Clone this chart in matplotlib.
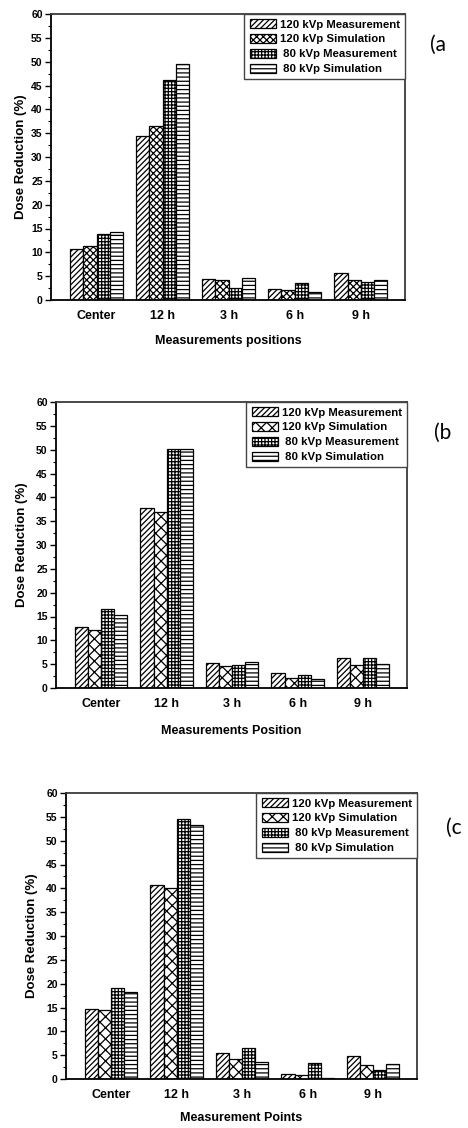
import numpy as np
import matplotlib
matplotlib.use('Agg')
import matplotlib.pyplot as plt
from matplotlib.ticker import MultipleLocator

plt.rcParams['font.family'] = ['Liberation Sans', 'DejaVu Sans']
plt.rcParams['font.weight'] = 'bold'
plt.rcParams['hatch.linewidth'] = 0.9

# Data
positions = ['Center', '12 h', '3 h', '6 h', '9 h']
series_names = ['120 kVp Measurement', '120 kVp Simulation', ' 80 kVp Measurement', ' 80 kVp Simulation']

# panel (a)
a_120_meas = [10.8, 34.5, 4.5, 2.4, 5.7]
a_120_sim = [11.4, 36.4, 4.1, 2.1, 4.2]
a_80_meas = [13.8, 46.2, 2.6, 3.5, 3.8]
a_80_sim = [14.3, 49.6, 4.7, 1.7, 4.3]

# panel (b)
b_120_meas = [12.8, 37.8, 5.2, 3.1, 6.3]
b_120_sim = [12.1, 36.9, 4.7, 2.2, 4.8]
b_80_meas = [16.5, 50.1, 4.8, 2.7, 6.2]
b_80_sim = [15.4, 50.1, 5.5, 1.8, 5.0]

# panel (c)
c_120_meas = [14.7, 40.7, 5.5, 1.1, 4.9]
c_120_sim = [14.4, 40.1, 4.1, 0.9, 2.9]
c_80_meas = [19.1, 54.5, 6.6, 3.4, 1.8]
c_80_sim = [18.3, 53.2, 3.5, 0.2, 3.2]

x_labels = ['Measurements positions', 'Measurements Position', 'Measurement Points']
panel_tags = ['(a', '(b', '(c']

W, H = 468, 1128
fig = plt.figure(figsize=(W / 100, H / 100), dpi=100)

# axes boxes in pixels: left, top, right, bottom
boxes = [(51, 14, 405, 300), (56, 402, 407, 688), (66, 793, 417, 1079)]
ylabel_x = [27, 28, 38]      # right edge of the rotated y label
xlabel_y = [335, 725, 1112]  # top of the x label
tag_pos = [(430, 45), (434, 433), (446, 828)]
hatch_sets = [['//////', 'xxxxx', '+++++', '----'],
              ['//////', 'xxx', '+++++', '----'],
              ['//////', 'xxx', '+++++', '----']]

panels = [
    [a_120_meas, a_120_sim, a_80_meas, a_80_sim],
    [b_120_meas, b_120_sim, b_80_meas, b_80_sim],
    [c_120_meas, c_120_sim, c_80_meas, c_80_sim],
]

x = np.arange(1, len(positions) + 1)
width = 0.2
offsets = [-1.5 * width, -0.5 * width, 0.5 * width, 1.5 * width]

for i, series in enumerate(panels):
    l, t, r, b = boxes[i]
    ax = fig.add_axes([l / W, 1 - b / H, (r - l) / W, (b - t) / H])

    for j, vals in enumerate(series):
        ax.bar(x + offsets[j], vals, width, color='white', edgecolor='black',
               linewidth=0.9, hatch=hatch_sets[i][j], label=series_names[j])

    ax.set_xlim(0.31, 5.67)
    ax.set_ylim(0, 60)
    ax.yaxis.set_major_locator(MultipleLocator(5))
    ax.yaxis.set_minor_locator(MultipleLocator(2.5))
    ax.set_xticks(x)
    ax.set_xticklabels(positions, fontsize=9, fontweight='bold')
    ax.tick_params(axis='x', length=0, pad=7)
    ax.tick_params(axis='y', which='major', direction='out', length=4, width=1, labelsize=7.5, pad=2)
    ax.tick_params(axis='y', which='minor', direction='out', length=2.5, width=0.8)

    for side in ['left', 'bottom']:
        ax.spines[side].set_linewidth(1.3)
        ax.spines[side].set_color('black')
    for side in ['top', 'right']:
        ax.spines[side].set_linewidth(1.3)
        ax.spines[side].set_color('#3a3a3a')

    ax.set_ylabel('Dose Reduction (%)', fontsize=9.5, fontweight='bold')
    ax.yaxis.set_label_coords((ylabel_x[i] - l) / (r - l), 0.5)
    ax.set_xlabel(x_labels[i], fontsize=9, fontweight='bold')
    ax.xaxis.set_label_coords(0.5, (b - xlabel_y[i]) / (b - t))

    leg = ax.legend(loc='upper right', bbox_to_anchor=(1, 1), borderaxespad=0,
                    fancybox=False, framealpha=1, edgecolor='#444444',
                    prop={'size': 8.2, 'weight': 'bold'},
                    handlelength=2.3, handleheight=0.85, handletextpad=0.35,
                    labelspacing=0.38, borderpad=0.45)
    leg.get_frame().set_linewidth(1.0)

    tx, ty = tag_pos[i]
    fig.text(tx / W, 1 - ty / H, panel_tags[i], fontsize=15, fontweight='normal',
             family=['Lato', 'DejaVu Sans'], va='center', ha='left')

fig.savefig('out.png', dpi=100)
